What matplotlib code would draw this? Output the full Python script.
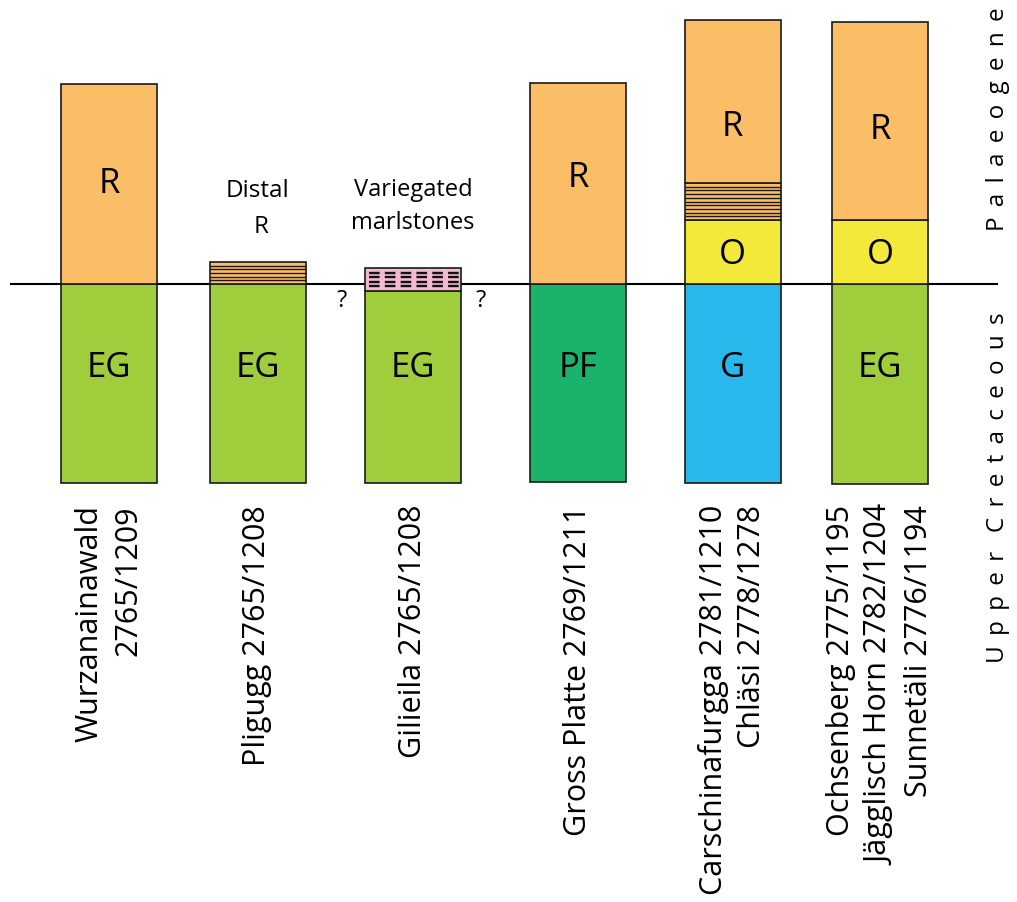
import numpy as np
import matplotlib
matplotlib.use("Agg")
import matplotlib.pyplot as plt
from matplotlib.patches import Rectangle

plt.rcParams["font.family"] = ["Open Sans", "DejaVu Sans"]

# Section labels (locality name and coordinates)
sections = [
    "Wurzanainawald\n2765/1209",
    "Pligugg 2765/1208",
    "Gilieila 2765/1208",
    "Gross Platte 2769/1211",
    "Carschinafurgga 2781/1210\nChläsi 2778/1278",
    "Ochsenberg 2775/1195\nJägglisch Horn 2782/1204\nSunnetäli 2776/1194",
]

# Upper Cretaceous unit of each section and its thickness below the boundary
cret_units = ["EG", "EG", "EG", "PF", "G", "EG"]
cret_thick = [199, 199, 192, 198, 199, 200]

# Palaeogene successions, listed from the boundary upwards: (unit, thickness)
pal_layers = [
    [("R", 200)],
    [("Rd", 22)],
    [("VM", 23)],
    [("R", 201)],
    [("O", 64), ("Rd", 37), ("R", 163)],
    [("O", 64), ("R", 198)],
]
# Offset of the variegated marlstones below the boundary
pal_base = [0, 0, -7, 0, 0, 0]

unit_colors = {
    "R": "#fbbe67",
    "Rd": "#fbbe67",
    "VM": "#f4b9d2",
    "O": "#f2e93a",
    "EG": "#a0cd3b",
    "PF": "#1bb36b",
    "G": "#29b8eb",
}

# Layout
xc = [109, 257.5, 413, 578, 732.5, 880]
bar_w = 96
W, H = 1017, 902
line_y = 284  # pixel row of the boundary

fig = plt.figure(figsize=(W / 100, H / 100), dpi=100)
ax = fig.add_axes([0, 0, 1, 1])
ax.set_xlim(0, W)
ax.set_ylim(line_y - H, line_y)
ax.axis("off")

# label positions inside the bars (height above boundary)
r_label_y = {0: 100, 3: 106, 4: 157, 5: 154}
o_label_y = 29
cret_label_y = -84
unit_fs = 25

for i, x0 in enumerate(xc):
    left = x0 - bar_w / 2
    # Cretaceous unit
    top_c = pal_base[i]
    ax.add_patch(Rectangle((left, top_c - cret_thick[i]), bar_w, cret_thick[i],
                           facecolor=unit_colors[cret_units[i]], edgecolor="#1a1a1a",
                           lw=1.2, zorder=2))
    ax.text(x0, cret_label_y, cret_units[i], ha="center", va="center",
            fontsize=unit_fs, zorder=5)
    # Palaeogene units
    base = pal_base[i]
    for unit, th in pal_layers[i]:
        ax.add_patch(Rectangle((left, base), bar_w, th,
                               facecolor=unit_colors[unit], edgecolor="#1a1a1a",
                               lw=1.2, zorder=2))
        if unit == "Rd":
            n = max(int(round(th / 3.7)), 2)
            ys = np.linspace(base, base + th, n + 1)[1:-1]
            ax.hlines(ys, left, left + bar_w, colors="#1a1a1a", lw=1.0, zorder=3)
        elif unit == "VM":
            ys = np.linspace(base, base + th, 6)[1:-1]
            ax.hlines(ys, left + 4, left + bar_w - 1, colors="#111111", lw=1.7,
                      linestyles=(0, (4.5, 2.2)), zorder=3)
        elif unit == "R":
            ax.text(x0, r_label_y.get(i, base + th / 2), "R", ha="center",
                    va="center", fontsize=unit_fs, zorder=5)
        elif unit == "O":
            ax.text(x0, o_label_y, "O", ha="center", va="center",
                    fontsize=unit_fs, zorder=5)
        base += th

    # locality label
    ax.text(x0, -221, sections[i], rotation=90, ha="center", va="top",
            multialignment="right", fontsize=22, linespacing=1.38)

# Captions above the thin Palaeogene units
ax.text(xc[1], 93, "Distal", ha="center", va="center", fontsize=17.5)
ax.text(xc[1] + 4, 57, "R", ha="center", va="center", fontsize=17.5)
ax.text(xc[2], 94, "Variegated", ha="center", va="center", fontsize=17)
ax.text(xc[2], 61, "marlstones", ha="center", va="center", fontsize=17)
ax.text(342, -17, "?", ha="center", va="center", fontsize=17)
ax.text(481, -17, "?", ha="center", va="center", fontsize=17)

# K/Pg boundary
ax.hlines(0, 10, 998, colors="black", lw=1.5, zorder=1)

# Period names, letter-spaced
gap = " \u2006"
ax.text(998, 165, gap.join("Palaeogene"), rotation=90, ha="center",
        va="center", fontsize=17.5)
ax.text(998, -204, gap.join("Upper") + "   " + gap.join("Cretaceous"),
        rotation=90, ha="center", va="center", fontsize=17.5)

fig.savefig("out.png", dpi=100)
